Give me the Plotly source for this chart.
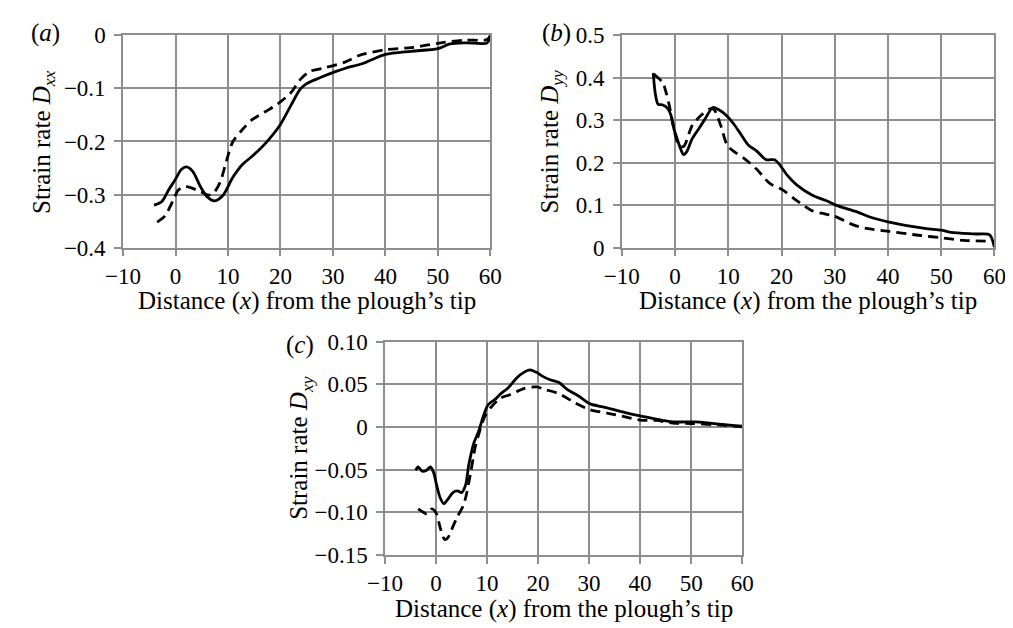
import plotly.graph_objects as go

# ---------------- data ----------------
# panel (a): D_xx
a_solid_x = [-4.1, -2.6, -1.35, 0, 1.1, 2.1, 3.25, 4.8, 6.0, 7.5, 9.1, 10.9, 12.8, 14.6, 17.1, 19.8, 22.0, 23.8, 25.0, 27.5, 30.6, 32.4, 35.7, 40.0, 44.9, 50.0, 52.3, 55.4, 59.4, 60.0]
a_solid_y = [-0.320, -0.313, -0.292, -0.271, -0.253, -0.248, -0.256, -0.286, -0.304, -0.312, -0.301, -0.268, -0.243, -0.228, -0.204, -0.171, -0.132, -0.101, -0.091, -0.080, -0.068, -0.062, -0.053, -0.036, -0.030, -0.025, -0.016, -0.014, -0.014, 0.0]
a_dash_x = [-3.5, -2.0, -0.4, 0.5, 1.7, 2.9, 4.8, 6.3, 7.2, 8.5, 9.7, 10.9, 12.8, 14.6, 17.1, 19.5, 22.0, 23.8, 25.6, 28.1, 32.4, 35.0, 40.0, 45.0, 50.0, 55.0, 59.4, 60.0]
a_dash_y = [-0.352, -0.340, -0.310, -0.292, -0.285, -0.287, -0.295, -0.301, -0.298, -0.277, -0.237, -0.201, -0.177, -0.159, -0.144, -0.129, -0.108, -0.083, -0.068, -0.062, -0.050, -0.038, -0.027, -0.023, -0.015, -0.009, -0.008, 0.0]

# panel (b): D_yy
b_solid_x = [-4.1, -3.7, -3.2, -2.3, -1.4, -0.8, -0.2, 0.4, 1.0, 1.6, 2.2, 3.2, 4.4, 5.6, 7.1, 8.3, 9.5, 11.1, 12.3, 13.8, 15.3, 17.1, 18.7, 19.6, 21.1, 22.9, 25.7, 28.7, 30.2, 34.2, 36.6, 40.2, 46.9, 50.0, 51.8, 56.7, 59.1, 60.0]
b_solid_y = [0.411, 0.362, 0.338, 0.336, 0.328, 0.313, 0.279, 0.256, 0.234, 0.219, 0.226, 0.256, 0.279, 0.302, 0.330, 0.324, 0.313, 0.290, 0.268, 0.241, 0.228, 0.207, 0.207, 0.196, 0.170, 0.147, 0.124, 0.109, 0.100, 0.084, 0.072, 0.060, 0.045, 0.041, 0.036, 0.032, 0.030, 0.0]
b_dash_x = [-4.0, -2.3, -1.7, -1.1, -0.2, 0.7, 1.6, 3.2, 5.0, 6.8, 7.4, 8.6, 9.8, 11.1, 12.9, 15.3, 17.8, 20.2, 22.6, 25.7, 27.5, 29.9, 33.6, 36.0, 40.2, 45.7, 50.0, 54.2, 59.1]
b_dash_y = [0.409, 0.388, 0.366, 0.336, 0.279, 0.241, 0.238, 0.287, 0.313, 0.328, 0.324, 0.287, 0.241, 0.226, 0.211, 0.185, 0.151, 0.136, 0.113, 0.087, 0.081, 0.074, 0.053, 0.045, 0.038, 0.029, 0.023, 0.017, 0.015]

# panel (c): D_xy
c_solid_x = [-4.0, -3.5, -2.7, -1.9, -1.1, -0.5, 0.1, 0.8, 1.5, 2.3, 3.3, 4.2, 5.0, 5.8, 6.4, 7.4, 8.3, 9.3, 10.2, 11.5, 12.7, 14.0, 14.6, 15.9, 17.2, 18.4, 19.7, 21.0, 22.5, 24.1, 25.7, 28.0, 30.2, 33.1, 36.9, 40.0, 46.4, 50.9, 52.8, 56.0, 60.0]
c_solid_y = [-0.051, -0.047, -0.052, -0.051, -0.047, -0.053, -0.068, -0.083, -0.090, -0.085, -0.077, -0.075, -0.077, -0.068, -0.045, -0.019, -0.006, 0.013, 0.026, 0.032, 0.039, 0.045, 0.049, 0.058, 0.064, 0.067, 0.064, 0.059, 0.055, 0.052, 0.044, 0.036, 0.027, 0.023, 0.017, 0.013, 0.006, 0.006, 0.005, 0.003, 0.001]
c_dash_x = [-3.5, -2.5, -1.8, -0.8, 0.1, 0.8, 1.7, 2.3, 3.3, 4.2, 5.2, 5.8, 6.8, 7.7, 8.6, 9.6, 10.9, 12.7, 14.6, 17.2, 19.7, 21.3, 24.1, 27.3, 30.2, 33.7, 36.9, 40.0, 43.2, 46.4, 50.3, 56.0, 60.0]
c_dash_y = [-0.096, -0.100, -0.102, -0.096, -0.102, -0.118, -0.132, -0.130, -0.117, -0.105, -0.094, -0.083, -0.053, -0.023, -0.004, 0.013, 0.024, 0.034, 0.038, 0.045, 0.047, 0.044, 0.039, 0.028, 0.020, 0.016, 0.012, 0.008, 0.0076, 0.0045, 0.004, 0.002, 0.0]

# ticks
x_tickvals = [-10, 0, 10, 20, 30, 40, 50, 60]
x_ticktext = ["\u221210", "0", "10", "20", "30", "40", "50", "60"]
a_tickvals = [0, -0.1, -0.2, -0.3, -0.4]
a_ticktext = ["0", "\u22120.1", "\u22120.2", "\u22120.3", "\u22120.4"]
b_tickvals = [0, 0.1, 0.2, 0.3, 0.4, 0.5]
b_ticktext = ["0", "0.1", "0.2", "0.3", "0.4", "0.5"]
c_tickvals = [0.10, 0.05, 0, -0.05, -0.10, -0.15]
c_ticktext = ["0.10", "0.05", "0", "\u22120.05", "\u22120.10", "\u22120.15"]

x_title = "Distance (<i>x</i>) from the plough\u2019s tip"
y_titles = ["Strain rate <i>D</i><sub><i>xx</i></sub>",
            "Strain rate <i>D</i><sub><i>yy</i></sub>",
            "Strain rate <i>D</i><sub><i>xy</i></sub>"]
panel_labels = ["(<i>a</i>)", "(<i>b</i>)", "(<i>c</i>)"]

# ---------------- layout ----------------
W, H = 1013, 628
FONT = "Liberation Serif, Times New Roman, serif"
FS_TICK = 23
FS_TITLE = 25
GRID = "#8e8e8e"

def px_x(p):
    return p / W

def px_y(p):
    return 1 - p / H

# pixel boxes (left, right, top, bottom)
boxes = [(100, 478.5, 16, 237), (614, 998, 16, 237), (370, 738, 335, 557)]

fig = go.Figure()
solid_line = dict(color="black", width=2.8, shape="spline", smoothing=0.8)
dash_line = dict(color="black", width=2.8, shape="spline", smoothing=0.8, dash="10px,6px")

series = [(a_solid_x, a_solid_y, a_dash_x, a_dash_y),
          (b_solid_x, b_solid_y, b_dash_x, b_dash_y),
          (c_solid_x, c_solid_y, c_dash_x, c_dash_y)]
for i, (sx, sy, dx, dy) in enumerate(series):
    xa = "x" if i == 0 else f"x{i+1}"
    ya = "y" if i == 0 else f"y{i+1}"
    fig.add_trace(go.Scatter(x=sx, y=sy, mode="lines", line=solid_line, xaxis=xa, yaxis=ya, showlegend=False, hoverinfo="skip"))
    fig.add_trace(go.Scatter(x=dx, y=dy, mode="lines", line=dash_line, xaxis=xa, yaxis=ya, showlegend=False, hoverinfo="skip"))

yranges = [[-0.4, 0], [0, 0.5], [-0.15, 0.10]]
yticks = [(a_tickvals, a_ticktext), (b_tickvals, b_ticktext), (c_tickvals, c_ticktext)]

common_axis = dict(showline=True, linecolor=GRID, linewidth=1.6, showgrid=True, gridcolor=GRID,
                   gridwidth=1.6, zeroline=False, ticks="outside", ticklen=7, tickcolor=GRID,
                   tickwidth=1.6, mirror=True, tickfont=dict(family=FONT, size=FS_TICK, color="black"))

layout = dict(width=W, height=H, margin=dict(l=0, r=0, t=0, b=0), plot_bgcolor="white",
              paper_bgcolor="white", font=dict(family=FONT, size=FS_TICK, color="black"))
annotations = []
for i, (l, r, t, b) in enumerate(boxes):
    sfx = "" if i == 0 else str(i + 1)
    layout[f"xaxis{sfx}"] = dict(common_axis, domain=[px_x(l), px_x(r)], range=[-10, 60],
                                 tickvals=x_tickvals, ticktext=x_ticktext,
                                 anchor=f"y{sfx}")
    layout[f"yaxis{sfx}"] = dict(common_axis, domain=[px_y(b), px_y(t)], range=yranges[i],
                                 tickvals=yticks[i][0], ticktext=yticks[i][1],
                                 anchor=f"x{sfx}", ticklabelstandoff=4)
    # x title
    annotations.append(dict(text=x_title, x=px_x((l + r) / 2), y=px_y(b + 56), xref="paper", yref="paper",
                            showarrow=False, xanchor="center", yanchor="middle",
                            font=dict(family=FONT, size=FS_TITLE, color="black")))

ytitle_x = [18, 541, 283]
label_pos = [(20, 14), (547, 14), (282, 338)]
for i, (l, r, t, b) in enumerate(boxes):
    annotations.append(dict(text=y_titles[i], x=px_x(ytitle_x[i]), y=px_y((t + b) / 2), xref="paper", yref="paper",
                            showarrow=False, textangle=-90, xanchor="center", yanchor="middle",
                            font=dict(family=FONT, size=FS_TITLE, color="black")))
    annotations.append(dict(text=panel_labels[i], x=px_x(label_pos[i][0]), y=px_y(label_pos[i][1]), xref="paper", yref="paper",
                            showarrow=False, xanchor="center", yanchor="middle",
                            font=dict(family=FONT, size=FS_TITLE, color="black")))

layout["annotations"] = annotations
fig.update_layout(**layout)
fig.write_html("out.html")
